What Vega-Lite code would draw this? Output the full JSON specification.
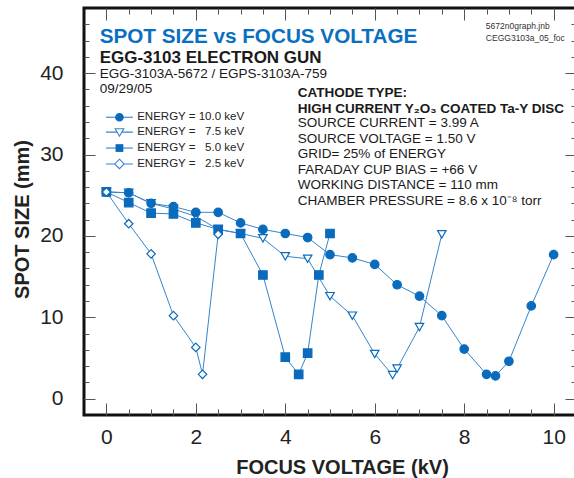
{
  "$schema": "https://vega.github.io/schema/vega-lite/v6.json",
  "width": 492,
  "height": 407,
  "autosize": {"type": "none"},
  "padding": {"left": 84, "top": 8, "right": 0, "bottom": 63},
  "background": "white",
  "config": {
    "view": {"stroke": "#111111", "strokeWidth": 3},
    "font": "Liberation Sans",
    "axis": {"domain": false, "grid": false, "tickColor": "#555555", "tickWidth": 1, "labelFont": "Liberation Sans", "labelFontSize": 21, "labelColor": "#222222", "titleFont": "Liberation Sans", "titleFontSize": 20, "titleFontWeight": "bold", "titleColor": "#222222"},
    "legend": {"orient": "none", "labelFont": "Liberation Sans", "labelFontSize": 11.5, "labelColor": "#222222", "symbolSize": 75, "rowPadding": 1.9, "labelOffset": 12, "padding": 0, "symbolStrokeWidth": 1.1}
  },
  "data": {"values": [
    {"energy": "ENERGY = \u00a0\u00a07.5 keV", "fv": 0, "ss": 25.4},
    {"energy": "ENERGY = \u00a0\u00a07.5 keV", "fv": 0.5, "ss": 25.3},
    {"energy": "ENERGY = \u00a0\u00a07.5 keV", "fv": 1, "ss": 24.0},
    {"energy": "ENERGY = \u00a0\u00a07.5 keV", "fv": 1.5, "ss": 23.3},
    {"energy": "ENERGY = \u00a0\u00a07.5 keV", "fv": 2, "ss": 22.4},
    {"energy": "ENERGY = \u00a0\u00a07.5 keV", "fv": 2.5, "ss": 20.8},
    {"energy": "ENERGY = \u00a0\u00a07.5 keV", "fv": 3, "ss": 20.3},
    {"energy": "ENERGY = \u00a0\u00a07.5 keV", "fv": 3.5, "ss": 19.7},
    {"energy": "ENERGY = \u00a0\u00a07.5 keV", "fv": 4, "ss": 17.5},
    {"energy": "ENERGY = \u00a0\u00a07.5 keV", "fv": 4.5, "ss": 17.2},
    {"energy": "ENERGY = \u00a0\u00a07.5 keV", "fv": 5, "ss": 12.6},
    {"energy": "ENERGY = \u00a0\u00a07.5 keV", "fv": 5.5, "ss": 10.2},
    {"energy": "ENERGY = \u00a0\u00a07.5 keV", "fv": 6, "ss": 5.5},
    {"energy": "ENERGY = \u00a0\u00a07.5 keV", "fv": 6.4, "ss": 2.9},
    {"energy": "ENERGY = \u00a0\u00a07.5 keV", "fv": 6.5, "ss": 3.7},
    {"energy": "ENERGY = \u00a0\u00a07.5 keV", "fv": 7, "ss": 8.8},
    {"energy": "ENERGY = \u00a0\u00a07.5 keV", "fv": 7.5, "ss": 20.2},
    {"energy": "ENERGY = 10.0 keV", "fv": 0, "ss": 25.4},
    {"energy": "ENERGY = 10.0 keV", "fv": 0.5, "ss": 25.3},
    {"energy": "ENERGY = 10.0 keV", "fv": 1, "ss": 24.0},
    {"energy": "ENERGY = 10.0 keV", "fv": 1.5, "ss": 23.6},
    {"energy": "ENERGY = 10.0 keV", "fv": 2, "ss": 22.9},
    {"energy": "ENERGY = 10.0 keV", "fv": 2.5, "ss": 22.9},
    {"energy": "ENERGY = 10.0 keV", "fv": 3, "ss": 21.6},
    {"energy": "ENERGY = 10.0 keV", "fv": 3.5, "ss": 20.8},
    {"energy": "ENERGY = 10.0 keV", "fv": 4, "ss": 20.3},
    {"energy": "ENERGY = 10.0 keV", "fv": 4.5, "ss": 19.8},
    {"energy": "ENERGY = 10.0 keV", "fv": 5, "ss": 17.7},
    {"energy": "ENERGY = 10.0 keV", "fv": 5.5, "ss": 17.3},
    {"energy": "ENERGY = 10.0 keV", "fv": 6, "ss": 16.5},
    {"energy": "ENERGY = 10.0 keV", "fv": 6.5, "ss": 14.0},
    {"energy": "ENERGY = 10.0 keV", "fv": 7, "ss": 12.6},
    {"energy": "ENERGY = 10.0 keV", "fv": 7.5, "ss": 10.2},
    {"energy": "ENERGY = 10.0 keV", "fv": 8, "ss": 6.1},
    {"energy": "ENERGY = 10.0 keV", "fv": 8.5, "ss": 3.0},
    {"energy": "ENERGY = 10.0 keV", "fv": 8.7, "ss": 2.8},
    {"energy": "ENERGY = 10.0 keV", "fv": 9, "ss": 4.6},
    {"energy": "ENERGY = 10.0 keV", "fv": 9.5, "ss": 11.4},
    {"energy": "ENERGY = 10.0 keV", "fv": 10, "ss": 17.7},
    {"energy": "ENERGY = \u00a0\u00a05.0 keV", "fv": 0, "ss": 25.4},
    {"energy": "ENERGY = \u00a0\u00a05.0 keV", "fv": 0.5, "ss": 24.1},
    {"energy": "ENERGY = \u00a0\u00a05.0 keV", "fv": 1, "ss": 22.8},
    {"energy": "ENERGY = \u00a0\u00a05.0 keV", "fv": 1.5, "ss": 22.7},
    {"energy": "ENERGY = \u00a0\u00a05.0 keV", "fv": 2, "ss": 21.6},
    {"energy": "ENERGY = \u00a0\u00a05.0 keV", "fv": 2.5, "ss": 20.8},
    {"energy": "ENERGY = \u00a0\u00a05.0 keV", "fv": 3, "ss": 20.3},
    {"energy": "ENERGY = \u00a0\u00a05.0 keV", "fv": 3.5, "ss": 15.2},
    {"energy": "ENERGY = \u00a0\u00a05.0 keV", "fv": 4, "ss": 5.1},
    {"energy": "ENERGY = \u00a0\u00a05.0 keV", "fv": 4.3, "ss": 3.0},
    {"energy": "ENERGY = \u00a0\u00a05.0 keV", "fv": 4.5, "ss": 5.6},
    {"energy": "ENERGY = \u00a0\u00a05.0 keV", "fv": 4.75, "ss": 15.2},
    {"energy": "ENERGY = \u00a0\u00a05.0 keV", "fv": 5, "ss": 20.3},
    {"energy": "ENERGY = \u00a0\u00a02.5 keV", "fv": 0, "ss": 25.4},
    {"energy": "ENERGY = \u00a0\u00a02.5 keV", "fv": 0.5, "ss": 21.5},
    {"energy": "ENERGY = \u00a0\u00a02.5 keV", "fv": 1, "ss": 17.8},
    {"energy": "ENERGY = \u00a0\u00a02.5 keV", "fv": 1.5, "ss": 10.2},
    {"energy": "ENERGY = \u00a0\u00a02.5 keV", "fv": 2, "ss": 6.3},
    {"energy": "ENERGY = \u00a0\u00a02.5 keV", "fv": 2.15, "ss": 3.0},
    {"energy": "ENERGY = \u00a0\u00a02.5 keV", "fv": 2.5, "ss": 20.2}
  ]},
  "layer": [
    {
      "mark": {"type": "line", "color": "#3584cc", "strokeWidth": 1},
      "encoding": {
        "x": {"field": "fv", "type": "quantitative", "scale": {"domain": [-0.5, 10.5], "nice": false, "zero": false},
              "axis": {"orient": "bottom", "values": [0, 2, 4, 6, 8, 10], "tickSize": -12, "labelPadding": 23, "title": "FOCUS VOLTAGE (kV)", "titleX": 258, "titleY": 58, "titleAlign": "center", "titleBaseline": "alphabetic"}},
        "y": {"field": "ss", "type": "quantitative", "scale": {"domain": [-2, 48], "nice": false, "zero": false},
              "axis": {"orient": "left", "values": [0, 10, 20, 30, 40], "tickSize": -11, "labelPadding": 32, "title": "SPOT SIZE (mm)", "titleX": -56, "titleY": 211, "titleAlign": "center", "titleBaseline": "alphabetic", "titleAngle": -90}},
        "detail": {"field": "energy", "type": "nominal"}
      }
    },
    {
      "mark": {"type": "point", "filled": true, "size": 72, "stroke": "#0a6bbd", "strokeWidth": 1.2, "opacity": 1},
      "encoding": {
        "x": {"field": "fv", "type": "quantitative", "scale": {"domain": [-0.5, 10.5], "nice": false, "zero": false},
              "axis": {"orient": "bottom", "values": [0, 0.5, 1, 1.5, 2, 2.5, 3, 3.5, 4, 4.5, 5, 5.5, 6, 6.5, 7, 7.5, 8, 8.5, 9, 9.5, 10], "tickSize": -6, "labels": false, "title": null}},
        "y": {"field": "ss", "type": "quantitative", "scale": {"domain": [-2, 48], "nice": false, "zero": false},
              "axis": {"orient": "left", "values": [0, 2, 4, 6, 8, 10, 12, 14, 16, 18, 20, 22, 24, 26, 28, 30, 32, 34, 36, 38, 40, 42, 44, 46], "tickSize": -5, "labels": false, "title": null}},
        "shape": {"field": "energy", "type": "nominal",
                  "scale": {"domain": ["ENERGY = 10.0 keV", "ENERGY = \u00a0\u00a07.5 keV", "ENERGY = \u00a0\u00a05.0 keV", "ENERGY = \u00a0\u00a02.5 keV"], "range": ["circle", "triangle-down", "square", "diamond"]},
                  "legend": null},
        "fill": {"field": "energy", "type": "nominal",
                 "scale": {"domain": ["ENERGY = 10.0 keV", "ENERGY = \u00a0\u00a07.5 keV", "ENERGY = \u00a0\u00a05.0 keV", "ENERGY = \u00a0\u00a02.5 keV"], "range": ["#0a6bbd", "#ffffff", "#0a6bbd", "#ffffff"]},
                 "legend": null}
      }
    },
    {
      "transform": [{"filter": "datum.fv > 100"}],
      "mark": {"type": "point", "filled": false, "color": "#3584cc", "strokeWidth": 1.1, "opacity": 1},
      "encoding": {
        "shape": {"field": "energy", "type": "nominal",
                  "scale": {"domain": ["ENERGY = 10.0 keV", "ENERGY = \u00a0\u00a07.5 keV", "ENERGY = \u00a0\u00a05.0 keV", "ENERGY = \u00a0\u00a02.5 keV"],
                            "range": ["M-3.1,0H3.1", "M-3.1,0H-0.54M0.54,0H3.1M-1,-0.8H1L0,0.95Z", "M-3.1,0H3.1", "M-3.1,0H-1.1M1.1,0H3.1M0,-1.1L1.1,0L0,1.1L-1.1,0Z"]},
                  "legend": {"title": null, "orient": "none", "legendX": 29.7, "legendY": 103.5}}
      }
    },
    {
      "transform": [{"filter": "datum.fv > 100"}],
      "mark": {"type": "point", "filled": true, "color": "#0a6bbd", "opacity": 1},
      "encoding": {
        "shape": {"field": "energy", "type": "nominal",
                  "scale": {"domain": ["ENERGY = 10.0 keV", "ENERGY = \u00a0\u00a07.5 keV", "ENERGY = \u00a0\u00a05.0 keV", "ENERGY = \u00a0\u00a02.5 keV"],
                            "range": ["M1,0A1,1,0,1,1,-1,0A1,1,0,1,1,1,0Z", "M0,0", "M-0.9,-0.9H0.9V0.9H-0.9Z", "M0,0"]},
                  "legend": {"title": null, "orient": "none", "legendX": 29.7, "legendY": 103.5, "labelColor": "transparent", "symbolOpacity": 1}}
      }
    },
    {
      "data": {"values": [{}]},
      "mark": {"type": "text", "align": "left", "baseline": "alphabetic", "font": "Liberation Sans", "fontWeight": "bold", "fontSize": 20.7, "color": "#0a6fc2"},
      "encoding": {
        "x": {"datum": -0.15, "type": "quantitative", "scale": {"domain": [-0.5, 10.5], "nice": false, "zero": false},
              "axis": {"orient": "top", "values": [0, 2, 4, 6, 8, 10], "tickSize": -12, "labels": false, "title": null}},
        "y": {"datum": 43.64, "type": "quantitative", "scale": {"domain": [-2, 48], "nice": false, "zero": false},
              "axis": {"orient": "right", "values": [0, 10, 20, 30, 40], "tickSize": -11, "labels": false, "title": null}},
        "text": {"value": "SPOT SIZE vs FOCUS VOLTAGE"}
      }
    },
    {
      "data": {"values": [{}]},
      "mark": {"type": "text", "align": "left", "baseline": "alphabetic", "font": "Liberation Sans", "fontSize": 13.5, "lineHeight": 15.5, "color": "#1a1a1a"},
      "encoding": {
        "x": {"datum": 4.28, "type": "quantitative", "scale": {"domain": [-0.5, 10.5], "nice": false, "zero": false},
              "axis": {"orient": "top", "values": [0, 0.5, 1, 1.5, 2, 2.5, 3, 3.5, 4, 4.5, 5, 5.5, 6, 6.5, 7, 7.5, 8, 8.5, 9, 9.5, 10], "tickSize": -6, "labels": false, "title": null}},
        "y": {"datum": 33.37, "type": "quantitative", "scale": {"domain": [-2, 48], "nice": false, "zero": false},
              "axis": {"orient": "right", "values": [0, 2, 4, 6, 8, 10, 12, 14, 16, 18, 20, 22, 24, 26, 28, 30, 32, 34, 36, 38, 40, 42, 44, 46], "tickSize": -5, "labels": false, "title": null}},
        "text": {"value": ["SOURCE CURRENT = 3.99 A", "SOURCE VOLTAGE = 1.50 V", "GRID= 25% of ENERGY", "FARADAY CUP BIAS = +66 V", "WORKING DISTANCE = 110 mm", "CHAMBER PRESSURE = 8.6 x 10\u207b\u2078 torr"]}
      }
    },
    {
      "data": {"values": [{}]},
      "mark": {"type": "text", "align": "left", "baseline": "alphabetic", "font": "Liberation Sans", "fontWeight": "bold", "fontSize": 13.5, "lineHeight": 15.3, "color": "#1a1a1a"},
      "encoding": {
        "x": {"datum": 4.28, "type": "quantitative", "scale": {"domain": [-0.5, 10.5], "nice": false, "zero": false}, "axis": null},
        "y": {"datum": 37.02, "type": "quantitative", "scale": {"domain": [-2, 48], "nice": false, "zero": false}, "axis": null},
        "text": {"value": ["CATHODE TYPE:", "HIGH CURRENT Y\u2082O\u2083 COATED Ta-Y DISC"]}
      }
    },
    {
      "data": {"values": [{}]},
      "mark": {"type": "text", "align": "left", "baseline": "alphabetic", "font": "Liberation Sans", "fontWeight": "bold", "fontSize": 17, "color": "#1a1a1a"},
      "encoding": {
        "x": {"datum": -0.15, "type": "quantitative", "scale": {"domain": [-0.5, 10.5], "nice": false, "zero": false}, "axis": null},
        "y": {"datum": 41.19, "type": "quantitative", "scale": {"domain": [-2, 48], "nice": false, "zero": false}, "axis": null},
        "text": {"value": "EGG-3103 ELECTRON GUN"}
      }
    },
    {
      "data": {"values": [{}]},
      "mark": {"type": "text", "align": "left", "baseline": "alphabetic", "font": "Liberation Sans", "fontSize": 13.5, "lineHeight": 15, "color": "#1a1a1a"},
      "encoding": {
        "x": {"datum": -0.15, "type": "quantitative", "scale": {"domain": [-0.5, 10.5], "nice": false, "zero": false}, "axis": null},
        "y": {"datum": 39.35, "type": "quantitative", "scale": {"domain": [-2, 48], "nice": false, "zero": false}, "axis": null},
        "text": {"value": ["EGG-3103A-5672 / EGPS-3103A-759", "09/29/05"]}
      }
    },
    {
      "data": {"values": [{}]},
      "mark": {"type": "text", "align": "left", "baseline": "alphabetic", "font": "Liberation Sans", "fontSize": 8.5, "lineHeight": 12, "color": "#333333"},
      "encoding": {
        "x": {"datum": 8.485, "type": "quantitative", "scale": {"domain": [-0.5, 10.5], "nice": false, "zero": false}, "axis": null},
        "y": {"datum": 45.36, "type": "quantitative", "scale": {"domain": [-2, 48], "nice": false, "zero": false}, "axis": null},
        "text": {"value": ["5672n0graph.jnb", "CEGG3103a_05_foc"]}
      }
    }
  ],
  "resolve": {"axis": {"x": "independent", "y": "independent"}, "scale": {"shape": "independent"}, "legend": {"shape": "independent"}}
}
